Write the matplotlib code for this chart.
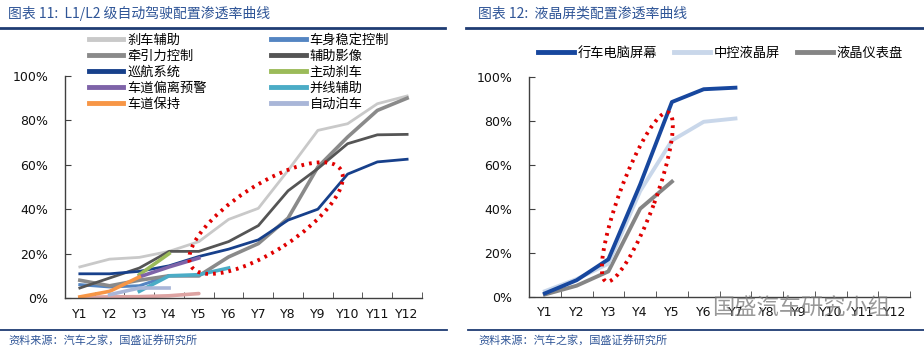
import matplotlib
matplotlib.use("Agg")
import matplotlib.pyplot as plt
import numpy as np
from matplotlib.lines import Line2D
from matplotlib.patches import Ellipse
from matplotlib.transforms import ScaledTranslation

plt.rcParams["font.family"] = ["Noto Sans CJK SC", "DejaVu Sans"]

nan = np.nan
years = ["Y1", "Y2", "Y3", "Y4", "Y5", "Y6", "Y7", "Y8", "Y9", "Y10", "Y11", "Y12"]

# chart 11: L1/L2 penetration (%), nan = no data
brake_assist = [14, 17.5, 18.3, 21, 25.4, 35.4, 40.4, 57.5, 75.5, 78.5, 87.5, 91]
esc = [6, 5, 5.5, 10, 10, nan, nan, nan, nan, nan, nan, nan]
traction = [8, 5.5, 8, 10, 10, 18.5, 24.5, 36, 59, 72.5, 84.5, 90]
camera = [4.5, 9, 13.5, 21, 21, 25.4, 32.6, 48.3, 58.3, 69.5, 73.5, 73.7]
cruise = [10.9, 10.9, 12, 14.5, 18.7, 22, 26.2, 35.1, 40, 55.8, 61.3, 62.5]
aeb = [nan, nan, 10.5, 20, nan, nan, nan, nan, nan, nan, nan, nan]
ldw = [nan, nan, 9.5, 14, 18, nan, nan, nan, nan, nan, nan, nan]
bsd = [nan, nan, 3, 10, 10.5, 13.5, nan, nan, nan, nan, nan, nan]
lka = [0.5, 3, 9.5, nan, nan, nan, nan, nan, nan, nan, nan, nan]
parking = [nan, 1.5, 4.5, 4.5, nan, nan, nan, nan, nan, nan, nan, nan]
other = [0.3, 0.5, 0.6, 1, 2, nan, nan, nan, nan, nan, nan, nan]

# chart 12: LCD screens (%)
trip_screen = [1.5, 7.5, 17, 51, 88.5, 94.3, 95, nan, nan, nan, nan, nan]
center_lcd = [2.5, 8, 15, 48, 71, 79.5, 81, nan, nan, nan, nan, nan]
cluster_lcd = [1, 5, 11.5, 40, 52.3, nan, nan, nan, nan, nan, nan, nan]

blue_txt = "#2F5597"
rule_c = "#1F3C73"

fig = plt.figure(figsize=(9.24, 3.51), dpi=100)


def style_axis(ax):
    ax.set_xlim(0.5, 12.5)
    ax.set_ylim(0, 1)
    for s in ("top", "right"):
        ax.spines[s].set_visible(False)
    for s in ("left", "bottom"):
        ax.spines[s].set_color("#404040")
        ax.spines[s].set_linewidth(1)
    ax.set_xticks(range(1, 13))
    ax.set_xticklabels(years, family="DejaVu Sans")
    ax.set_xticks(np.arange(1.5, 13, 1), minor=True)
    ax.tick_params(axis="x", which="major", length=0, pad=7, labelsize=9, colors="#111111")
    ax.tick_params(axis="x", which="minor", direction="in", length=4, color="#404040")
    ax.set_yticks(np.arange(0, 1.01, 0.2))
    ax.set_yticklabels([f"{int(v)}%" for v in np.arange(0, 101, 20)], family="DejaVu Sans")
    ax.tick_params(axis="y", direction="in", length=4, pad=12, labelsize=9, colors="#404040",
                   labelcolor="#111111")


def dotted_ellipse(ax, cx, cy, w, h, ang):
    tr = fig.dpi_scale_trans + ScaledTranslation(cx, cy, ax.transData)
    e = Ellipse((0, 0), w, h, angle=ang, transform=tr, fill=False,
                edgecolor="#E00000", lw=2.8, linestyle=(0, (0.7, 1.3)), clip_on=False)
    fig.add_artist(e)


x = np.arange(1, 13)

# ---- left chart
ax1 = fig.add_axes([0.0703, 0.151, 0.3864, 0.6325])
series_l = [
    ("刹车辅助", brake_assist, "#C9C9C9", 2.0),
    ("车身稳定控制", esc, "#5485C2", 2.2),
    ("牵引力控制", traction, "#8A8A8A", 2.6),
    ("辅助影像", camera, "#555555", 2.0),
    ("巡航系统", cruise, "#17408B", 2.0),
    ("主动刹车", aeb, "#9BBB59", 2.6),
    ("车道偏离预警", ldw, "#7E63A8", 2.6),
    ("并线辅助", bsd, "#4BACC6", 2.6),
    ("车道保持", lka, "#F79646", 2.6),
    ("自动泊车", parking, "#A9B6D8", 2.6),
]
handles = {}
ax1.plot(x, np.array(other) / 100, color="#DDA3A2", lw=2.6, solid_capstyle="round")
for name, vals, c, lw in series_l:
    (ln,) = ax1.plot(x, np.array(vals) / 100, color=c, lw=lw, label=name)
    handles[name] = ln
style_axis(ax1)
order = ["刹车辅助", "牵引力控制", "巡航系统", "车道偏离预警", "车道保持",
         "车身稳定控制", "辅助影像", "主动刹车", "并线辅助", "自动泊车"]
leg_h = [Line2D([], [], color=handles[n].get_color(), lw=3.5) for n in order]
fig.legend(leg_h, order, loc="upper left", bbox_to_anchor=(0.0963, 1 - 34 / 351), ncol=2,
           frameon=False, fontsize=9.5, handlelength=2.6, handletextpad=0.3,
           columnspacing=4.9, labelspacing=0.22, borderpad=0, borderaxespad=0)
dotted_ellipse(ax1, 7.26, 0.36, 1.78, 0.66, 33)

# ---- right chart
ax2 = fig.add_axes([0.5725, 0.1547, 0.4125, 0.6268])
series_r = [
    ("行车电脑屏幕", trip_screen, "#17479E", 2.8),
    ("中控液晶屏", center_lcd, "#C9D7EA", 2.8),
    ("液晶仪表盘", cluster_lcd, "#858585", 2.8),
]
for name, vals, c, lw in series_r[::-1]:
    ax2.plot(x, np.array(vals) / 100, color=c, lw=lw, label=name)
style_axis(ax2)
leg_h2 = [Line2D([], [], color=c, lw=3.5) for _, _, c, _ in series_r]
fig.legend(leg_h2, [n for n, _, _, _ in series_r], loc="upper left",
           bbox_to_anchor=(538 / 924, 1 - 47 / 351), ncol=3, frameon=False,
           fontsize=9.5, handlelength=2.7, handletextpad=0.3, columnspacing=1.3,
           borderpad=0, borderaxespad=0)
dotted_ellipse(ax2, 3.91, 0.453, 1.8, 0.36, 69.7)

# ---- titles, rules, sources
fig.text(8 / 924, 1 - 13 / 351, "图表 11:  L1/L2 级自动驾驶配置渗透率曲线", color=blue_txt,
         fontsize=10, style="italic", va="center", ha="left")
fig.text(478 / 924, 1 - 13 / 351, "图表 12:  液晶屏类配置渗透率曲线", color=blue_txt,
         fontsize=10, style="italic", va="center", ha="left")
for x0, x1 in ((0, 445), (466, 924)):
    fig.add_artist(Line2D([x0 / 924, x1 / 924], [1 - 28 / 351] * 2, color=rule_c, lw=2))
for x0, x1 in ((0, 447), (468, 924)):
    fig.add_artist(Line2D([x0 / 924, x1 / 924], [1 - 330 / 351] * 2, color=rule_c, lw=1.3))
for xt in (8, 478):
    fig.text(xt / 924, 1 - 340 / 351, "资料来源：汽车之家，国盛证券研究所", color=blue_txt,
             fontsize=8, style="italic", va="center", ha="left")

# watermark (overlaps tick labels in the source image too)
fig.text(712 / 924, 1 - 308 / 351, "国盛汽车研究小组", color="#777777", alpha=0.75,
         fontsize=16, va="center", ha="left")

fig.savefig("out.png", dpi=100)
